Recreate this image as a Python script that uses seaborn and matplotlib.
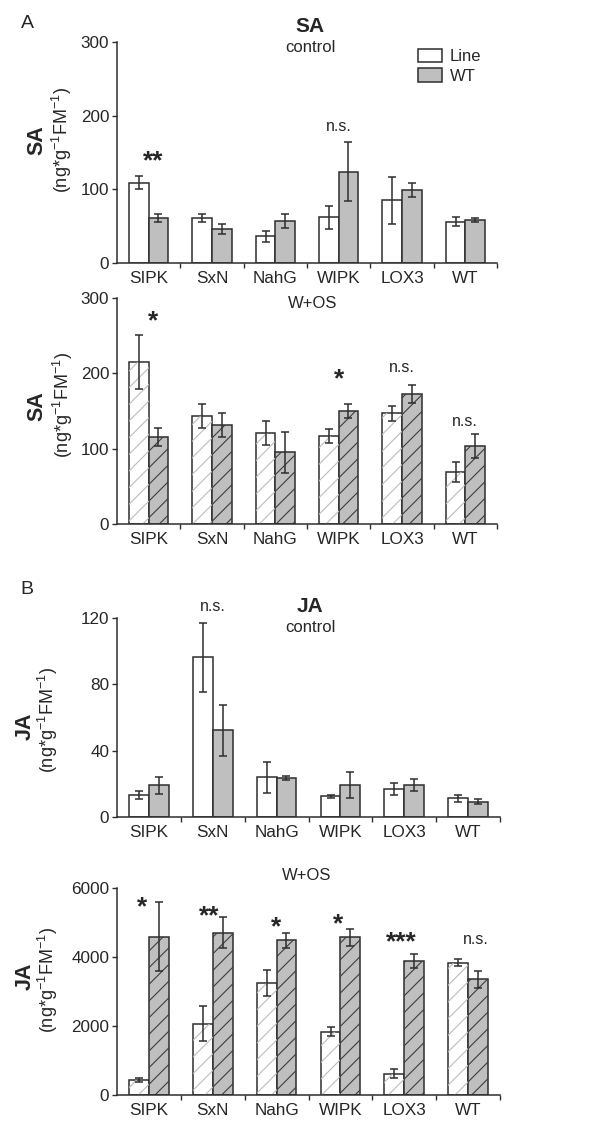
import numpy as np
import pandas as pd
import matplotlib
matplotlib.use('Agg')
import matplotlib.pyplot as plt
import seaborn as sns
from matplotlib.patches import Patch, Rectangle

# categories and values
categories = ['SIPK', 'SxN', 'NahG', 'WIPK', 'LOX3', 'WT']
hue_levels = ['Line', 'WT']

sa_ctrl_line = [109, 61, 36, 62, 85, 56]
sa_ctrl_line_err = [9, 6, 7.5, 16, 32, 6]
sa_ctrl_wt = [61, 46, 57, 124, 99, 58.5]
sa_ctrl_wt_err = [6, 7, 9, 40, 9, 3]

sa_os_line = [215, 143, 121, 117, 147, 69]
sa_os_line_err = [36, 16, 15.5, 9.5, 10, 13]
sa_os_wt = [115, 132, 95, 150, 172, 103]
sa_os_wt_err = [12, 16, 27, 9.5, 12, 16]

ja_ctrl_line = [13.2, 96.2, 24, 12.4, 17, 11.2]
ja_ctrl_line_err = [2.3, 21, 9.3, 1, 3.5, 2.3]
ja_ctrl_wt = [19, 52.3, 23.4, 19.4, 19.2, 9.2]
ja_ctrl_wt_err = [5.4, 15.3, 1.3, 8, 3.7, 1.5]

ja_os_line = [430, 2070, 3240, 1830, 610, 3840]
ja_os_line_err = [65, 500, 375, 130, 130, 95]
ja_os_wt = [4590, 4700, 4480, 4570, 3890, 3350]
ja_os_wt_err = [1000, 445, 230, 240, 200, 250]

# significance marks: (text, x position, y of glyph centre)
sa_ctrl_marks = [('**', 0.07, 149), ('n.s.', 3.0, 185)]
sa_os_marks = [('*', 0.07, 280), ('*', 3.0, 203), ('n.s.', 4.0, 207), ('n.s.', 5.0, 136)]
ja_ctrl_marks = [('n.s.', 1.0, 126.6)]
ja_os_marks = [('*', -0.1, 5661), ('**', 0.95, 5420), ('*', 2.0, 5081),
               ('*', 2.97, 5177), ('***', 3.95, 4645), ('n.s.', 5.12, 4500)]

TEXT = '#262626'
EDGE = '#2e2e2e'
GRAY = '#bfbfbf'

sns.set_style('ticks')
plt.rcParams['font.family'] = ['Liberation Sans', 'DejaVu Sans']
plt.rcParams['mathtext.fontset'] = 'custom'
plt.rcParams['mathtext.rm'] = 'Liberation Sans'
plt.rcParams['mathtext.default'] = 'rm'
plt.rcParams['hatch.linewidth'] = 0.8
plt.rcParams['text.color'] = TEXT
plt.rcParams['xtick.color'] = EDGE
plt.rcParams['ytick.color'] = EDGE
plt.rcParams['xtick.labelcolor'] = TEXT
plt.rcParams['ytick.labelcolor'] = TEXT

W, H = 600, 1128
fig = plt.figure(figsize=(6, 11.28), dpi=100)


def px_axes(left, top, right, bottom):
    return fig.add_axes([left / W, 1 - bottom / H, (right - left) / W, (bottom - top) / H])


def fig_text(x, y, s, **kw):
    fig.text(x / W, 1 - y / H, s, ha='center', va='center', **kw)


def draw_panel(ax, line, line_err, wt, wt_err, ymax, yticks, hatched, marks):
    df = pd.DataFrame({'genotype': categories * 2,
                       'plant': ['Line'] * 6 + ['WT'] * 6,
                       'value': list(line) + list(wt)})
    sns.barplot(data=df, x='genotype', y='value', hue='plant', hue_order=hue_levels,
                palette={'Line': 'white', 'WT': GRAY}, saturation=1, width=0.62,
                errorbar=None, edgecolor=EDGE, linewidth=1.1, legend=False, ax=ax)
    for cont, err, hcol in zip(ax.containers[:2], [line_err, wt_err], ['#bdbdbd', '#3c3c3c']):
        xs = [b.get_x() + b.get_width() / 2 for b in cont]
        hs = [b.get_height() for b in cont]
        if hatched:
            for b in cont:
                ax.add_patch(Rectangle((b.get_x(), 0), b.get_width(), b.get_height(),
                                       facecolor='none', edgecolor=hcol, linewidth=0,
                                       hatch='//', zorder=b.get_zorder() + 0.1))
        ax.errorbar(xs, hs, yerr=err, fmt='none', ecolor=EDGE, elinewidth=1.1,
                    capsize=2.7, capthick=1.1, zorder=5)

    for txt, x, y in marks:
        if '*' in txt:
            size, weight, k = 19, 'bold', 0.57
        else:
            size, weight, k = 11.5, 'normal', 0.27
        ax.annotate(txt, (x, y), xytext=(0, -k * size), textcoords='offset points',
                    ha='center', va='baseline', fontsize=size, fontweight=weight,
                    color=TEXT, annotation_clip=False)

    ax.set_xlim(-0.5, 5.5)
    ax.set_ylim(0, ymax)
    ax.set_xticks(range(6))
    ax.set_xticklabels(categories)
    ax.set_xticks(np.arange(0.5, 6, 1), minor=True)
    ax.tick_params(axis='x', which='major', length=0, pad=6, labelsize=12.3)
    ax.tick_params(axis='x', which='minor', length=3.5, width=1, direction='out')
    ax.set_yticks(yticks)
    ax.tick_params(axis='y', length=3.5, width=1, pad=2, labelsize=12.3)
    ax.set_xlabel('')
    ax.set_ylabel('')
    sns.despine(ax=ax)
    for sp in ['left', 'bottom']:
        ax.spines[sp].set_color(EDGE)
        ax.spines[sp].set_linewidth(1.1)


ax1 = px_axes(117, 42, 497, 263)
draw_panel(ax1, sa_ctrl_line, sa_ctrl_line_err, sa_ctrl_wt, sa_ctrl_wt_err,
           300, [0, 100, 200, 300], False, sa_ctrl_marks)
ax2 = px_axes(117, 298, 497, 524)
draw_panel(ax2, sa_os_line, sa_os_line_err, sa_os_wt, sa_os_wt_err,
           300, [0, 100, 200, 300], True, sa_os_marks)
ax3 = px_axes(117, 618, 500, 817)
draw_panel(ax3, ja_ctrl_line, ja_ctrl_line_err, ja_ctrl_wt, ja_ctrl_wt_err,
           120, [0, 40, 80, 120], False, ja_ctrl_marks)
ax4 = px_axes(117, 888, 500, 1095)
draw_panel(ax4, ja_os_line, ja_os_line_err, ja_os_wt, ja_os_wt_err,
           6000, [0, 2000, 4000, 6000], True, ja_os_marks)

handles = [Patch(facecolor='white', edgecolor=EDGE, linewidth=1.1, label='Line'),
           Patch(facecolor=GRAY, edgecolor=EDGE, linewidth=1.1, label='WT')]
ax1.legend(handles=handles, loc='upper left', bbox_to_anchor=(0.775, 1.0), frameon=False,
           fontsize=12, handlelength=1.4, handleheight=0.85, labelspacing=0.25,
           handletextpad=0.5, borderaxespad=0)

# panel letters and titles
fig_text(27, 23, 'A', fontsize=14)
fig_text(27, 590, 'B', fontsize=14)
fig_text(310, 27, 'SA', fontsize=15, fontweight='bold')
fig_text(310, 47, 'control', fontsize=12)
fig_text(313, 303, 'W+OS', fontsize=12)
fig_text(310, 607, 'JA', fontsize=15, fontweight='bold')
fig_text(310, 628, 'control', fontsize=12)
fig_text(307, 875, 'W+OS', fontsize=12)

# y axis labels
unit = r'(ng*g$^{-1}$FM$^{-1}$)'
for name, xn, yn, xu, yu in [('SA', 37, 140, 62, 140), ('SA', 37, 406, 63, 405),
                             ('JA', 25, 726, 48, 720), ('JA', 25, 976, 48, 980)]:
    fig_text(xn, yn, name, fontsize=15.5, fontweight='bold', rotation=90)
    fig_text(xu, yu, unit, fontsize=13, rotation=90)

fig.savefig('out.png', dpi=100)
